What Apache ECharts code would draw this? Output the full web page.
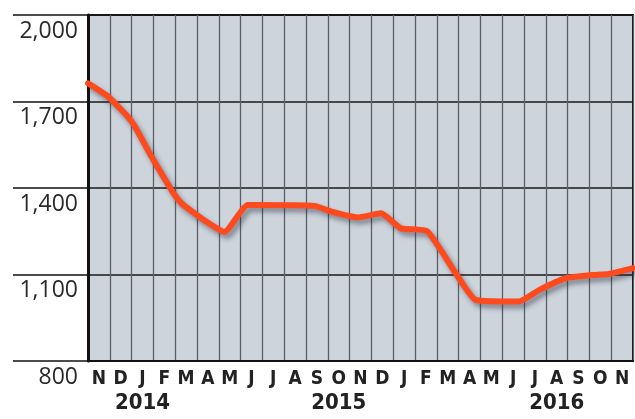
<!DOCTYPE html>
<html lang="en">
<head>
    <meta charset="utf-8">
    <script src="https://cdn.jsdelivr.net/npm/echarts@6/dist/echarts.min.js"></script>
    <title>line_chart</title>
</head>
<body>
<style>
    html, body {
        margin: 0;
        background: #fff;
    }
    #main {
        width: 635px;
        height: 419px;
    }
</style>
<div id='main'></div>
<script>
    // month columns, Nov 2014 - Nov 2016
    var months = ['N', 'D', 'J', 'F', 'M', 'A', 'M', 'J', 'J', 'A', 'S', 'O', 'N',
        'D', 'J', 'F', 'M', 'A', 'M', 'J', 'J', 'A', 'S', 'O', 'N'];
    var yearIdx = [2, 11, 21];
    var years = ['2014', '2015', '2016'];
    var yTicks = [800, 1100, 1400, 1700, 2000];

    // line: position in months from left edge, value
    var linePos = [0, 0.92, 1.83, 2.15, 2.91, 3.83, 4.29, 5.2, 6.27, 7.33, 10.39, 11.17,
        12.36, 13.44, 14.36, 15.56, 16.87, 17.78, 19.77, 20.69, 21.91, 23.13, 23.89, 25];
    var lineVals = [1763, 1717, 1647, 1613, 1509, 1393, 1347, 1295, 1248, 1341, 1338, 1318,
        1298, 1312, 1260, 1250, 1104, 1012, 1006, 1046, 1087, 1098, 1102, 1122];

    var lineData = linePos.map(function (p, i) { return [p, lineVals[i]]; });

    var chart = echarts.init(document.getElementById('main'));
    var option = {
        animation: false,
        grid: {
            left: 88, top: 15, right: 2, bottom: 58,
            show: true,
            backgroundColor: '#cdd4dc',
            borderColor: '#111',
            borderWidth: 2
        },
        xAxis: [{
            type: 'category',
            data: months,
            boundaryGap: true,
            axisLine: {lineStyle: {color: '#111', width: 2}},
            axisTick: {show: false},
            splitLine: {show: true, interval: 0, lineStyle: {color: '#5a6068', width: 1.3}},
            axisLabel: {
                interval: 0,
                margin: 9,
                color: '#222',
                fontFamily: 'DejaVu Sans Condensed',
                fontWeight: 'bold',
                fontSize: 19
            }
        }, {
            type: 'category',
            data: months,
            position: 'bottom',
            boundaryGap: true,
            axisLine: {show: false},
            axisTick: {show: false},
            axisLabel: {
                interval: 0,
                margin: 31,
                color: '#222',
                fontFamily: 'DejaVu Sans Condensed',
                fontWeight: 'bold',
                fontSize: 22,
                formatter: function (v, i) {
                    var k = yearIdx.indexOf(i);
                    return k >= 0 ? years[k] : '';
                }
            }
        }, {
            type: 'value',
            min: 0,
            max: months.length,
            show: false
        }],
        yAxis: {
            type: 'value',
            min: yTicks[0],
            max: yTicks[yTicks.length - 1],
            interval: 300,
            axisLine: {show: true, lineStyle: {color: '#111', width: 3}},
            axisTick: {show: true, length: 75, lineStyle: {color: '#111', width: 1.5}},
            splitLine: {lineStyle: {color: '#1a1a1a', width: 1.5}},
            axisLabel: {
                margin: 10,
                verticalAlign: 'top',
                lineHeight: 24,
                padding: [4, 0, 0, 0],
                color: '#2a2a2a',
                fontFamily: 'Open Sans',
                fontSize: 23,
                formatter: function (v) { return v.toLocaleString('en-US'); }
            }
        },
        series: [{
            type: 'line',
            xAxisIndex: 2,
            data: lineData,
            smooth: 0.15,
            showSymbol: false,
            lineStyle: {
                color: '#ff4a1e',
                width: 6,
                cap: 'round',
                join: 'round',
                shadowColor: 'rgba(30,35,50,0.45)',
                shadowBlur: 5,
                shadowOffsetX: 3,
                shadowOffsetY: 4
            }
        }]
    };
    chart.setOption(option);
</script>
</body>
</html>
